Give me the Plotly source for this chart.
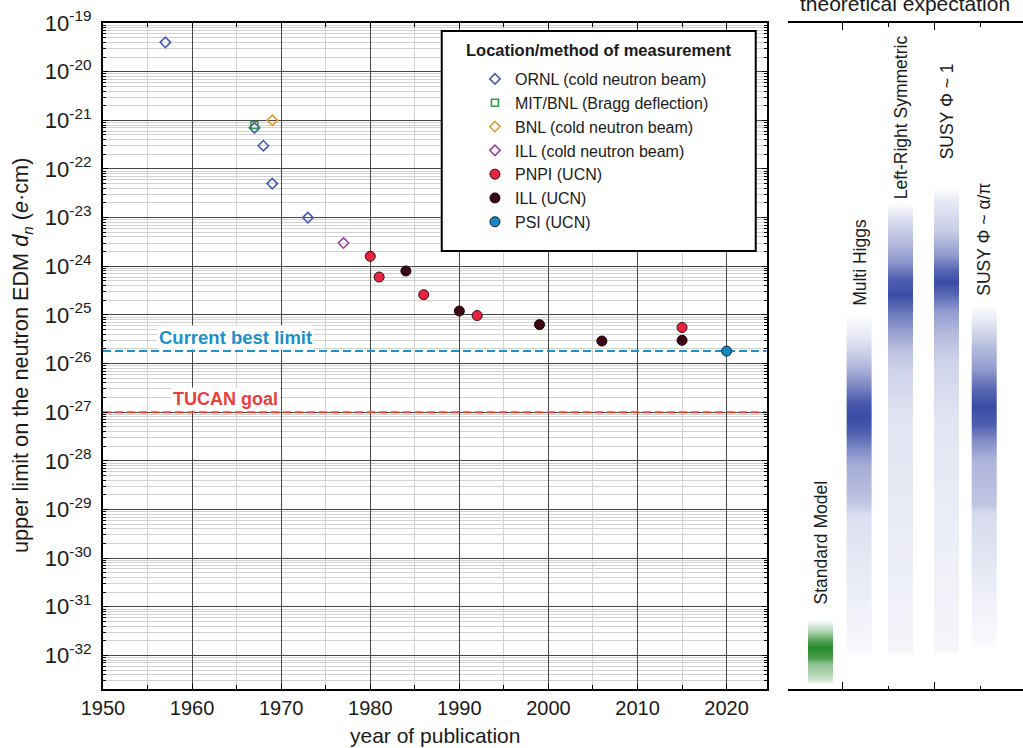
import numpy as np
import plotly.graph_objects as go

# ---------------- data: measured upper limits (e*cm) ----------------
years_ornl = [1957, 1967, 1968, 1969, 1973]
dn_ornl = [4e-20, 7e-22, 3e-22, 5e-23, 1e-23]
years_mit = [1967]
dn_mit = [8e-22]
years_bnl = [1969]
dn_bnl = [1e-21]
years_ill_beam = [1977]
dn_ill_beam = [3e-24]
years_pnpi = [1980, 1981, 1986, 1992, 2015]
dn_pnpi = [1.6e-24, 6e-25, 2.6e-25, 9.7e-26, 5.5e-26]
years_ill_ucn = [1984, 1990, 1999, 2006, 2015]
dn_ill_ucn = [8e-25, 1.2e-25, 6.3e-26, 2.9e-26, 3e-26]
years_psi = [2020]
dn_psi = [1.8e-26]

current_best = 1.8e-26
tucan_goal = 1e-27

x_ticks = [1950, 1960, 1970, 1980, 1990, 2000, 2010, 2020]
decades = list(range(-32, -18))

# ---------------- theoretical expectations: gradient stops (log10 dn, intensity) ----------------
models = ["Standard Model", "Multi Higgs", "Left-Right Symmetric", "SUSY Φ ~ 1", "SUSY Φ ~ α/π"]
sm_lvl = [-31.26, -31.47, -31.67, -31.84, -32.04, -32.19, -32.39, -32.52, -32.58]
sm_int = [0, 0.3, 0.75, 1.0, 0.85, 0.5, 0.35, 0.2, 0]
mh_lvl = [-24.95, -25.4, -25.75, -26.15, -26.5, -26.85, -27.1, -27.4, -27.75, -28.1, -28.6, -28.9, -29.1, -30.0, -31.0, -31.9, -32.0]
mh_int = [0, 0.12, 0.25, 0.45, 0.7, 0.95, 1.0, 0.9, 0.65, 0.45, 0.38, 0.3, 0.18, 0.13, 0.08, 0.04, 0]
lr_lvl = [-22.7, -23.04, -23.56, -23.93, -24.28, -24.58, -24.95, -25.3, -25.71, -26.12, -27.15, -28.8, -30.85, -31.88, -32.0]
lr_int = [0, 0.2, 0.4, 0.6, 0.9, 1.0, 0.75, 0.55, 0.35, 0.25, 0.15, 0.12, 0.08, 0.05, 0]
s1_lvl = [-22.39, -22.63, -23.25, -23.76, -24.07, -24.32, -24.58, -24.93, -25.4, -25.92, -27.15, -29.2, -31.88, -32.0]
s1_int = [0, 0.12, 0.28, 0.55, 0.85, 1.0, 0.85, 0.55, 0.38, 0.25, 0.15, 0.1, 0.05, 0]
sa_lvl = [-24.75, -25.1, -25.4, -25.71, -26.12, -26.53, -26.88, -27.25, -27.56, -27.97, -28.9, -29.1, -29.97, -30.85, -31.74, -31.9]
sa_int = [0, 0.12, 0.25, 0.4, 0.55, 0.85, 1.0, 0.9, 0.65, 0.42, 0.32, 0.2, 0.15, 0.08, 0.03, 0]
model_levels = [sm_lvl, mh_lvl, lr_lvl, s1_lvl, sa_lvl]
model_intens = [sm_int, mh_int, lr_int, s1_int, sa_int]

# ---------------- layout constants ----------------
FONT = "Arial, Liberation Sans, sans-serif"
X_RANGE = [1950, 2024.5]
Y_RANGE = [-32.69, -19]
model_pos = [0.52, 1.36, 2.26, 3.26, 4.08]
bar_w = 0.55
label_base = [-31.0, -24.86, -22.67, -21.85, -24.65]
model_colors = ["rgb(38,138,44)", "rgb(58,76,166)", "rgb(58,76,166)", "rgb(58,76,166)", "rgb(58,76,166)"]

fig = go.Figure()

# reference lines
fig.add_trace(go.Scatter(x=X_RANGE, y=[current_best, current_best], mode="lines",
                         line=dict(color="#2191c9", width=2, dash="8px,4px"),
                         showlegend=False, hoverinfo="skip", xaxis="x", yaxis="y"))
fig.add_trace(go.Scatter(x=X_RANGE, y=[tucan_goal, tucan_goal], mode="lines",
                         line=dict(color="#e8473c", width=2, dash="8px,4px"),
                         showlegend=False, hoverinfo="skip", xaxis="x", yaxis="y"))

series = [
    ("ORNL (cold neutron beam)", years_ornl, dn_ornl, dict(symbol="diamond-open", size=8, color="#4a5ab2", line=dict(width=1.6, color="#4a5ab2"))),
    ("MIT/BNL (Bragg deflection)", years_mit, dn_mit, dict(symbol="square-open", size=7, color="#2e9a4c", line=dict(width=1.6, color="#2e9a4c"))),
    ("BNL (cold neutron beam)", years_bnl, dn_bnl, dict(symbol="diamond-open", size=8, color="#e29a2c", line=dict(width=1.6, color="#e29a2c"))),
    ("ILL (cold neutron beam)", years_ill_beam, dn_ill_beam, dict(symbol="diamond-open", size=8, color="#9a42a0", line=dict(width=1.6, color="#9a42a0"))),
    ("PNPI (UCN)", years_pnpi, dn_pnpi, dict(symbol="circle", size=10, color="#e8243e", line=dict(width=1, color="#3a0a10"))),
    ("ILL (UCN)", years_ill_ucn, dn_ill_ucn, dict(symbol="circle", size=10, color="#3c0614", line=dict(width=1, color="#1a0005"))),
    ("PSI (UCN)", years_psi, dn_psi, dict(symbol="circle", size=10, color="#1a88c0", line=dict(width=1, color="#0a2030"))),
]
for i, (name, xs, ys, mk) in enumerate(series):
    fig.add_trace(go.Scatter(x=xs, y=ys, mode="markers", name=name, marker=mk,
                             legendgroup="g%d" % i, xaxis="x", yaxis="y"))

# gradient bars (heatmap smoothing done by plotly)
for name, pos, lv, it, col in zip(models, model_pos, model_levels, model_intens, model_colors):
    rgb = col[4:-1]
    fig.add_trace(go.Heatmap(
        x=[pos - bar_w / 2, pos, pos + bar_w / 2], y=lv, z=[[v, v] for v in it],
        zmin=0, zmax=1, zsmooth="best", showscale=False, hoverinfo="skip",
        colorscale=[[0, "rgba(%s,0)" % rgb], [1, "rgba(%s,1)" % rgb]],
        xaxis="x2", yaxis="y3"))

minor_y = [k * 10.0 ** d for d in range(-33, -19) for k in range(2, 10)]
major_grid = "#474747"
minor_grid = "#d2d2d2"

fig.update_layout(
    width=1023, height=748,
    margin=dict(l=103, r=0, t=23, b=59),
    paper_bgcolor="white", plot_bgcolor="white",
    font=dict(family=FONT, color="#1a1a1a"),
    xaxis=dict(domain=[0, 0.7214], range=X_RANGE, tickmode="array", tickvals=x_ticks,
               tickfont=dict(size=20, family=FONT, color="#1a1a1a"),
               showgrid=True, gridcolor=major_grid, gridwidth=1,
               ticks="inside", ticklen=5, tickcolor="black",
               minor=dict(tickmode="array", tickvals=[1955, 1965, 1975, 1985, 1995, 2005, 2015],
                          showgrid=True, gridcolor=minor_grid, ticks="inside", ticklen=4, tickcolor="black"),
               showline=True, linecolor="black", linewidth=2, mirror="ticks", zeroline=False,
               anchor="y", ticklabelstandoff=0),
    yaxis=dict(type="log", range=Y_RANGE, tickmode="array", tickvals=[10.0 ** d for d in decades],
               ticktext=["10<sup>%d</sup>" % d for d in decades],
               tickfont=dict(size=22, family=FONT, color="#1a1a1a"),
               showgrid=True, gridcolor=major_grid, gridwidth=1,
               ticks="inside", ticklen=5, tickcolor="black",
               minor=dict(tickmode="array", tickvals=minor_y, showgrid=True, gridcolor=minor_grid,
                          ticks="inside", ticklen=3, tickcolor="black"),
               showline=True, linecolor="black", linewidth=2, mirror="ticks", zeroline=False,
               anchor="x", ticklabelstandoff=5),
    xaxis2=dict(domain=[0.7449, 1], range=[-0.183, 4.92], tickmode="array", tickvals=[1, 3],
                ticks="inside", ticklen=7, tickcolor="black", showticklabels=False, showgrid=False,
                minor=dict(tickmode="array", tickvals=[2, 4], ticks="inside", ticklen=3.5, tickcolor="black"),
                showline=True, linecolor="black", linewidth=2, mirror="ticks", zeroline=False, anchor="y2"),
    yaxis2=dict(type="log", range=Y_RANGE, tickmode="array", tickvals=[10.0 ** d for d in decades],
                showticklabels=False, showgrid=True, gridcolor=major_grid, gridwidth=1, ticks="",
                minor=dict(tickmode="array", tickvals=minor_y, showgrid=True, gridcolor=minor_grid),
                showline=True, linecolor="black", linewidth=2, mirror=False, zeroline=False, anchor="x2"),
    yaxis3=dict(overlaying="y2", range=Y_RANGE, visible=False, anchor="x2"),
    legend=dict(x=0.4043, y=0.9414, xanchor="left", yanchor="top", bgcolor="rgba(0,0,0,0)",
                borderwidth=0, font=dict(size=16, family=FONT, color="#1a1a1a"),
                tracegroupgap=0),
    showlegend=True,
)

# legend frame
fig.add_shape(type="rect", xref="paper", yref="paper", x0=0.3682, x1=0.7095, y0=0.6577, y1=0.988,
              line=dict(color="black", width=2), fillcolor="white", layer="above")

ann = []
ann.append(dict(text="<b>Location/method of measurement</b>", x=0.5388, y=0.9595, xref="paper", yref="paper",
                xanchor="center", yanchor="middle", showarrow=False,
                font=dict(size=16.5, family=FONT, color="#1a1a1a")))
ann.append(dict(text="<b>Current best limit</b>", x=1964.9, y=np.log10(current_best), xref="x", yref="y",
                yanchor="bottom", yshift=1, showarrow=False, bgcolor="white", borderpad=1,
                font=dict(size=18.5, family=FONT, color="#1e8fc8")))
ann.append(dict(text="<b>TUCAN goal</b>", x=1963.8, y=np.log10(tucan_goal), xref="x", yref="y",
                yanchor="bottom", yshift=1, showarrow=False, bgcolor="white", borderpad=1,
                font=dict(size=18, family=FONT, color="#e8403a")))
ann.append(dict(text="upper limit on the neutron EDM <i>d</i><sub><i>n</i></sub> (<i>e</i>·cm)",
                x=0, y=0.5, xref="paper", yref="paper", xshift=-81, textangle=-90,
                xanchor="center", yanchor="middle", showarrow=False,
                font=dict(size=21.7, family=FONT, color="#1a1a1a")))
ann.append(dict(text="year of publication", x=0.3607, y=0, xref="paper", yref="paper", yshift=-46,
                xanchor="center", yanchor="middle", showarrow=False,
                font=dict(size=21, family=FONT, color="#1a1a1a")))
ann.append(dict(text="theoretical expectation", x=0.8717, y=1, xref="paper", yref="paper", yshift=6,
                xanchor="center", yanchor="bottom", showarrow=False,
                font=dict(size=21, family=FONT, color="#1a1a1a")))
for name, pos, base in zip(models, model_pos, label_base):
    ann.append(dict(text=name, x=pos, y=base, xref="x2", yref="y3", textangle=-90,
                    xanchor="center", yanchor="bottom", showarrow=False,
                    font=dict(size=17.5, family=FONT, color="#1a1a1a")))
fig.update_layout(annotations=ann)

fig.write_html("out.html",
               config={"displayModeBar": False},
               post_script="document.body.style.margin='0px';document.body.style.padding='0px';"
                           "document.documentElement.style.overflow='hidden';")
